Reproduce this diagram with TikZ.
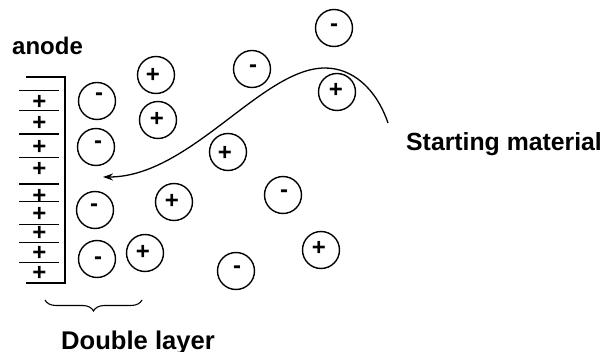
\documentclass[tikz,border=0pt]{standalone}
\usepackage{fontspec}
\setmainfont{Liberation Sans}
\usetikzlibrary{decorations.pathreplacing,arrows.meta}
\begin{document}
\begin{tikzpicture}[x=1pt,y=-1pt,
  ion/.style={circle,draw,line width=1.4pt,minimum size=37pt,inner sep=0pt},
  sgn/.style={font=\fontsize{24}{24}\selectfont\bfseries,inner sep=0pt,anchor=base},
  possign/.style={sgn,yshift=-8.4pt},
  negsign/.style={sgn,yshift=-6.5pt},
  lbl/.style={font=\fontsize{24.5}{26}\selectfont\bfseries,inner sep=0pt,anchor=base west},
  plate/.style={line width=1.4pt},
  flowpath/.style={line width=1.3pt,-{Stealth[length=10pt,width=7pt]}},
]
\useasboundingbox (0,0) rectangle (603,352);

% electrode plate
\coordinate (pt) at (65,77);
\coordinate (pb) at (65,283);
\draw[plate] (26,77) -- (pt) -- (pb) -- (26,283);
\foreach \i/\ly/\py in {1/90.7/100.7, 2/110.7/121.7, 3/134/146, 4/157.3/168.3,
                        5/184/195, 6/201.7/213.3, 7/224.3/232.3, 8/242.7/251.7, 9/262.3/272.3} {
  \draw[plate] (19,\ly) -- (59,\ly);
  \node[possign] (plate\i) at (39.5,\py) {+};
}

% ions in solution
\foreach \n/\cx/\cy/\st/\s/\sx/\sy in {
    n1/97/101/negsign/-/99/94, n2/96/147/negsign/-/98/142, n3/95/210/negsign/-/94/205,
    n4/97/259/negsign/-/98/258, n5/252/69/negsign/-/253/66, n6/334/28/negsign/-/334/25,
    n7/283/195/negsign/-/284/191, n8/236/271/negsign/-/237/267,
    p1/156/75/possign/+/153/74, p2/158/120/possign/+/157/118, p3/337/92/possign/+/336/89,
    p4/228/152/possign/+/225/152, p5/174/202/possign/+/172/200, p6/145/253/possign/+/143/251,
    p7/321/250/possign/+/319/247} {
  \node[ion] (\n) at (\cx,\cy) {};
  \node[\st] (\n s) at (\sx,\sy) {\s};
}

% path of the starting material towards the electrode
\coordinate (src) at (388,123);
\coordinate (top) at (325,68);
\coordinate (dst) at (103,177);
\draw[flowpath] (src) .. controls (376,88) and (352,68) .. (top)
  .. controls (262,68) and (190,177) .. (dst);

% double layer brace
\draw[line width=1.1pt,decorate,decoration={brace,mirror,amplitude=11pt}] (45,300) -- (142,300);

% labels
\node[lbl,font=\fontsize{24}{26}\selectfont\bfseries] (anode) at (12,55) {anode};
\node[lbl,font=\fontsize{25.6}{27}\selectfont\bfseries] (dl) at (61,350) {Double layer};
\node[lbl,font=\fontsize{24.8}{26}\selectfont\bfseries] (sm) at (406,151) {Starting material};
\end{tikzpicture}
\end{document}
